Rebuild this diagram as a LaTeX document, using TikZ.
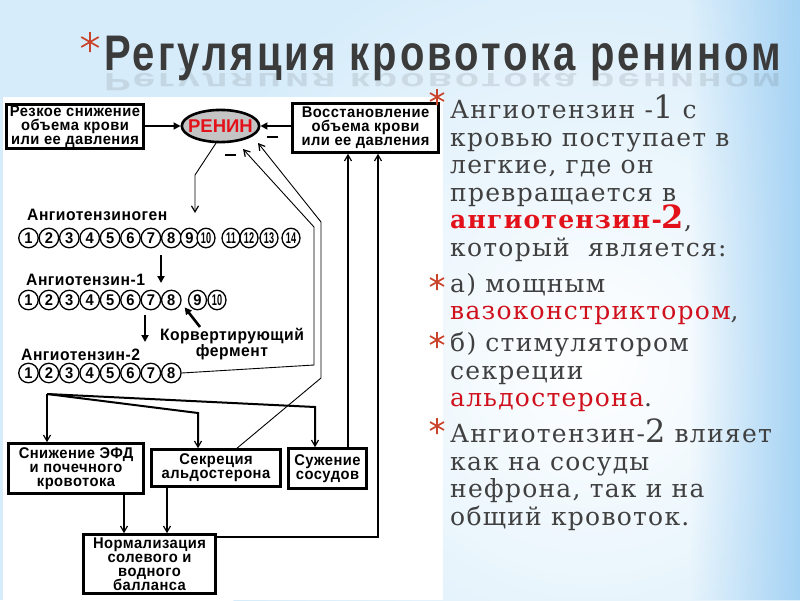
\documentclass[tikz,border=0pt]{standalone}
\usepackage{fontspec}
\setmainfont{DejaVu Serif}[LetterSpace=5]
\setsansfont{Liberation Sans}
\newfontfamily\diafont{Liberation Sans}[FakeStretch=0.95, LetterSpace=3]
\newfontfamily\headfont{Liberation Sans}[FakeStretch=0.8, LetterSpace=6]
\usepackage{graphicx}
\usepackage{tikz}
\usetikzlibrary{arrows.meta,positioning,shapes.geometric,calc,fadings}
\definecolor{skyblue}{HTML}{A6D3F4}
\definecolor{paleblue}{HTML}{D6ECFA}
\definecolor{starred}{HTML}{C9442B}
\definecolor{inkgray}{HTML}{404040}
\definecolor{hotred}{HTML}{E3121A}
\definecolor{darkred}{HTML}{D0101C}
\definecolor{headgray}{HTML}{3B3B3B}
\definecolor{reningray}{HTML}{C4C4C4}
\setlength{\lineskiplimit}{-30pt}

\tikzset{
  box/.style={draw, line width=2.6pt, fill=white, align=center, inner sep=0pt,
    font=\diafont\bfseries\fontsize{15.5}{14}\selectfont},
  renin/.style={draw, ellipse, line width=2.6pt, fill=reningray, inner xsep=-5pt, inner ysep=5pt,
    text=hotred, font=\sffamily\bfseries\fontsize{18.5}{18}\selectfont},
  amino/.style={draw, ellipse, line width=1.3pt, fill=white, inner sep=0pt,
    minimum width=19.5pt, minimum height=19.5pt,
    font=\diafont\bfseries\fontsize{15.5}{15}\selectfont},
  amino pair/.style={amino, minimum width=18pt},
  caption/.style={inner sep=0pt, font=\diafont\bfseries\fontsize{16.5}{16}\selectfont},
  minus/.style={fill, inner sep=0pt, minimum width=11pt, minimum height=2pt},
  fillarrow/.style={line width=2pt, -{Triangle[length=7pt,width=7pt]}},
  openarrow/.style={-{Straight Barb[length=6pt,width=7pt,line width=1.2pt]}},
  thinline/.style={line width=0.9pt},
  medline/.style={line width=1.4pt},
  busline/.style={line width=2pt},
  heading/.style={inner sep=0pt, text=headgray, font=\headfont\bfseries\fontsize{50}{50}\selectfont},
  bullettext/.style={anchor=north west, inner sep=0pt, align=left, text=inkgray,
    font=\fontsize{25}{27.5}\selectfont},
  asterisk/.pic={\draw[starred, line width=1.7pt] (0,-8) -- (0,8) (-7,-4) -- (7,4) (-7,4) -- (7,-4);},
}
\newcommand{\bigdigit}[1]{{\fontsize{32}{27.5}\selectfont #1}}

\begin{document}
\begin{tikzpicture}[x=1pt, y=-1pt]
  \useasboundingbox (0,0) rectangle (800,600);
  % backdrop
  \fill[paleblue] (0,0) rectangle (800,600);
  \begin{scope}
    \clip (0,0) rectangle (800,600);
    \shade[inner color=white, outer color=paleblue] (590,360) circle (430);
    \fill[skyblue, path fading=west] (690,0) rectangle (800,600);
  \end{scope}
  \fill[white] (3,97) rectangle (443,600);

  % heading
  \pic[scale=1.25] at (90,42) {asterisk};
  \node[heading, anchor=base west] (head) at (104,70) {Регуляция кровотока ренином};
  \node[heading, anchor=base west, opacity=0.12] (mirror) at (104,73) {\scalebox{1}[-0.5]{Регуляция кровотока ренином}};

  % top row
  \node[box, minimum width=137pt, minimum height=44pt] (drop) at (75,126.5) {Резкое снижение\\объема крови\\или ее давления};
  \node[renin] (renin) at (220.5,126) {РЕНИН};
  \node[box, minimum width=146pt, minimum height=49pt] (restore) at (365.5,128) {Восстановление\\объема крови\\или ее давления};
  \draw[fillarrow] (drop.east |- renin.west) -- (renin.west);
  \draw[fillarrow] (restore.west |- renin.east) -- (renin.east);
  \node[minus] (minus1) at (272.5,137) {};
  \node[minus] (minus2) at (230,155) {};

  % angiotensinogen
  \coordinate (genin) at (195,213);
  \draw[thinline, openarrow] (renin.255) -- (genin |- 0,175) -- (genin);
  \node[caption, anchor=west] (gen) at (27,215) {Ангиотензиноген};
  \foreach \n in {1,...,8}
    \node[amino] (gen\n) at ({28.5+20.4*(\n-1)},238) {\n};
  \node[amino pair] (gen9) at (189.5,238) {9};
  \foreach \n/\x in {10/206,11/231,12/249,13/269,14/291}
    \node[amino pair] (gen\n) at (\x,238) {\scalebox{0.62}[1]{\n}};

  % angiotensin-1
  \coordinate (genout) at (161,283);
  \draw[fillarrow] ([yshift=-7pt]gen8.south -| genout) -- (genout);
  \node[caption, anchor=west] (one) at (26,280) {Ангиотензин-1};
  \foreach \n in {1,...,8}
    \node[amino] (one\n) at ({28.5+20.4*(\n-1)},300) {\n};
  \node[amino pair] (one9) at (197.5,300) {9};
  \node[amino pair] (one10) at (217,300) {\scalebox{0.62}[1]{10}};
  \node[caption, align=center] (ferment) at (232,344) {Корвертирующий\\фермент};
  \draw[fillarrow, line width=2.6pt] ($(ferment.north)+(-32,-1)$) -- ($(one8.south east)!0.5!(one9.south west)$);

  % angiotensin-2
  \coordinate (oneout) at (145,342);
  \draw[fillarrow] ([yshift=-5pt]one7.south -| oneout) -- (oneout);
  \node[caption, anchor=west] (two) at (21,355) {Ангиотензин-2};
  \foreach \n in {1,...,8}
    \node[amino] (two\n) at ({28.5+20.4*(\n-1)},373) {\n};

  % effects
  \node[box, minimum width=135pt, minimum height=50pt] (gfr) at (76,468.5) {Снижение ЭФД\\и почечного\\кровотока};
  \node[box, minimum width=129pt, minimum height=37pt] (aldo) at (216,468) {Секреция\\альдостерона};
  \node[box, minimum width=78pt, minimum height=40pt] (vaso) at (327.5,468.5) {Сужение\\сосудов};
  \node[box, minimum width=132pt, minimum height=59pt] (norm) at (149.5,564) {Нормализация\\солевого и\\водного\\балланса};

  % feedback to renin
  \coordinate (fbA) at (243,149);
  \coordinate (fbB) at (258,143);
  \draw[thinline, openarrow] (two8.east) -- (314,365) -- (314,227) -- (fbA);
  \draw[thinline, openarrow] ([xshift=21pt]aldo.north) -- (321,378) -- (321,222) -- (fbB);

  % fan-out of angiotensin-2
  \coordinate (split) at (47,394);
  \draw[busline, openarrow] (split) -- (split |- gfr.north);
  \draw[busline, openarrow] (split) -- (198,413) -- ([xshift=-18pt]aldo.north);
  \draw[busline, openarrow] (split) -- (315,407) -- ([xshift=-12.5pt]vaso.north);

  % back to restoration
  \draw[busline, openarrow] ([xshift=20.5pt]vaso.north) -- ([xshift=-17.5pt]restore.south);
  \draw[medline, openarrow] ([yshift=27pt]norm.east) -| ([xshift=12.5pt]restore.south);
  \draw[busline, openarrow] ([xshift=48pt]gfr.south) -- ([xshift=48pt]gfr.south |- norm.north);
  \draw[busline, openarrow] ([xshift=-49pt]aldo.south) -- ([xshift=-49pt]aldo.south |- norm.north);

  % notes
  \pic at (437,97) {asterisk};
  \node[bullettext] (p1) at (450,95) {Ангиотензин -\bigdigit{1} с\\кровью поступает в\\легкие, где он\\превращается в\\{\color{hotred}\bfseries ангиотензин-\bigdigit{2}},\\который\ \ является:};
  \pic at (437,282) {asterisk};
  \node[bullettext] (p2) at (450,273) {а) мощным\\{\color{darkred}вазоконстриктором},};
  \pic at (437,340) {asterisk};
  \node[bullettext] (p3) at (450,332) {б) стимулятором\\секреции\\{\color{darkred}альдостерона}.};
  \pic at (437,426) {asterisk};
  \node[bullettext] (p4) at (450,419) {Ангиотензин-\bigdigit{2} влияет\\как на сосуды\\нефрона, так и на\\общий кровоток.};
\end{tikzpicture}
\end{document}
